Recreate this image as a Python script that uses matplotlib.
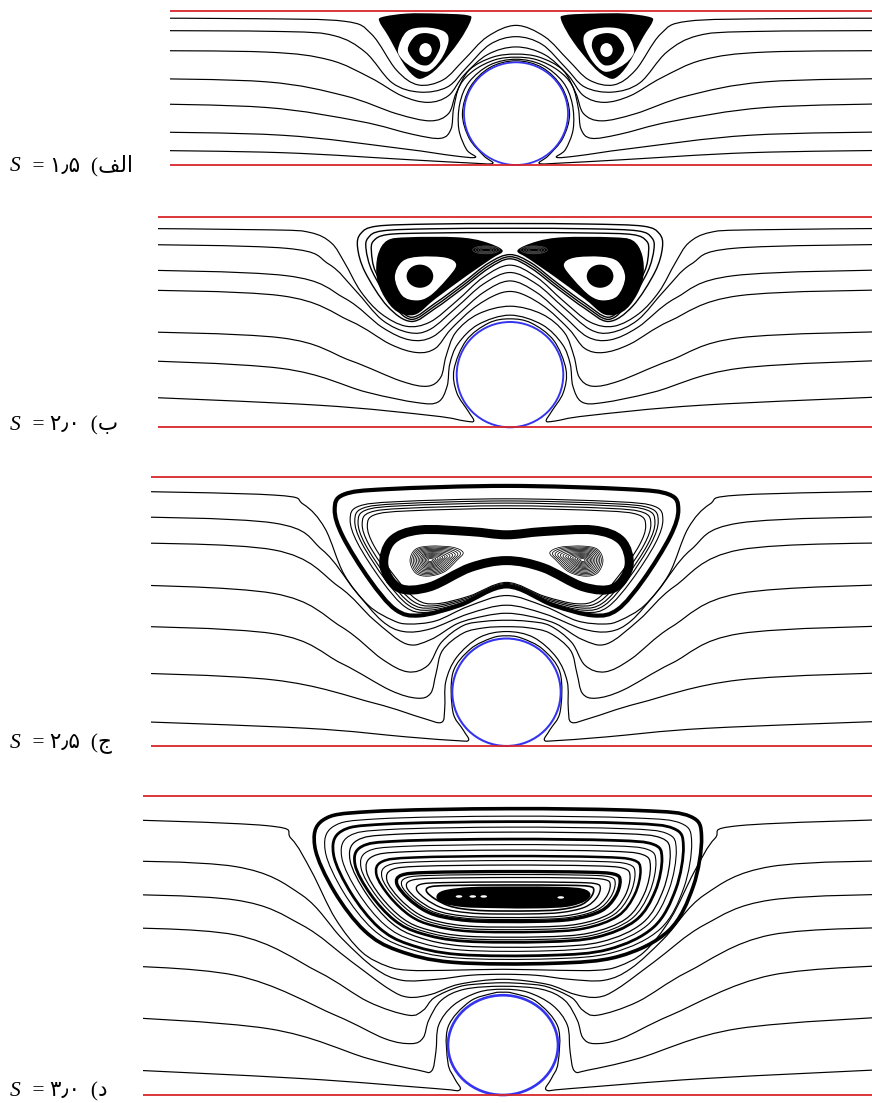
import numpy as np
import matplotlib
matplotlib.use("Agg")
import matplotlib.pyplot as plt
from matplotlib.path import Path
from matplotlib.patches import PathPatch, Circle, Ellipse
from matplotlib.transforms import Affine2D

W, H = 872, 1103
RED = "#d8262a"
BLUE = "#3434f0"
LW = 0.85

# ---- labels -------------------------------------------------------------
s_values = ["۱٫۵", "۲٫۰", "۲٫۵", "۳٫۰"]
# الف / ب / ج / د as presentation forms, already in visual order
part_names = ["\ufed2\ufedf\ufe8d", "\ufe8f", "\ufe9d", "\ufea9"]
channel_h = [3, 4, 5, 6]          # channel height in cylinder radii (= 2S)

# ---- streamlines: left half (x <= 0), units of cylinder radius ------------
# y is height above the lower wall; the cylinder sits at (0, 1) with radius 1
A_LINES = [
    [(-7.5, 2.86), (-5.0, 2.85), (-3.3, 2.8), (-2.78, 2.55), (-2.3, 1.85), (-1.88, 1.56), (-1.4, 1.66), (-1.0, 2.05), (-0.55, 2.5), (0, 2.72)],
    [(-7.5, 2.62), (-4.5, 2.6), (-3.5, 2.52), (-2.9, 2.2), (-2.38, 1.6), (-1.85, 1.42), (-1.32, 1.52), (-0.95, 1.9), (-0.5, 2.35), (0, 2.5)],
    [(-7.5, 2.23), (-4.8, 2.2), (-3.6, 2.05), (-2.8, 1.7), (-2.2, 1.35), (-1.7, 1.22), (-1.3, 1.35), (-1.0, 1.75), (-0.55, 2.15), (0, 2.3)],
    [(-7.5, 1.69), (-4.8, 1.62), (-3.3, 1.35), (-2.3, 1.0), (-1.65, 0.86), (-1.3, 1.0), (-1.15, 1.4), (-0.9, 1.85), (-0.45, 2.1), (0, 2.16)],
    [(-7.5, 1.2), (-4.8, 1.12), (-3.0, 0.85), (-2.0, 0.6), (-1.45, 0.52), (-1.25, 0.7), (-1.2, 1.1), (-1.08, 1.55), (-0.8, 1.85), (-0.4, 2.05), (0, 2.1)],
    [(-7.5, 0.65), (-4.5, 0.58), (-2.2, 0.32), (-1.2, 0.18), (-0.78, 0.15), (-0.95, 0.3), (-1.1, 0.7), (-1.08, 1.2), (-0.9, 1.62), (-0.5, 1.95), (0, 2.06)],
    [(-7.5, 0.29), (-4.5, 0.24), (-2.0, 0.1), (-0.9, 0.04), (-0.45, 0.03), (-0.62, 0.18), (-0.9, 0.52), (-1.03, 1.0), (-0.88, 1.52), (-0.5, 1.9), (0, 2.03)],
]
A_VORT_OUTER = [(-2.58, 2.88), (-2.1, 2.95), (-1.5, 2.95), (-0.95, 2.92), (-0.87, 2.82), (-1.1, 2.4), (-1.5, 1.9), (-1.75, 1.71), (-1.92, 1.7),
                (-2.15, 1.95), (-2.45, 2.5), (-2.62, 2.78)]
A_VORT_RING = [(-2.27, 2.25), (-2.1, 2.6), (-1.75, 2.68), (-1.38, 2.6), (-1.3, 2.4), (-1.45, 2.05), (-1.7, 1.82), (-1.98, 1.9), (-2.18, 2.05)]
A_VORT_CORE = [(-2.08, 2.25), (-1.95, 2.5), (-1.75, 2.57), (-1.52, 2.5), (-1.46, 2.3), (-1.58, 2.05), (-1.72, 1.94), (-1.92, 2.0)]
A_EYE = (-1.74, 2.24, 0.24, 0.27)

B_LINES = [
    [(-7.5, 3.78), (-4.5, 3.75), (-3.75, 3.7), (-3.35, 3.5), (-3.1, 3.12), (-2.8, 2.58), (-2.42, 2.16), (-1.95, 1.92), (-1.5, 2.0), (-1.0, 2.4), (-0.5, 2.85), (0, 3.08)],
    [(-7.5, 3.48), (-4.2, 3.4), (-3.4, 3.1), (-2.9, 2.6), (-2.4, 2.04), (-1.9, 1.8), (-1.5, 1.86), (-1.0, 2.28), (-0.5, 2.72), (0, 2.94)],
    [(-7.5, 3.0), (-4.2, 2.88), (-3.1, 2.45), (-2.4, 1.9), (-1.88, 1.66), (-1.45, 1.72), (-1.0, 2.12), (-0.5, 2.56), (0, 2.78)],
    [(-7.5, 2.62), (-4.3, 2.5), (-3.0, 2.02), (-2.25, 1.58), (-1.75, 1.42), (-1.4, 1.5), (-1.12, 1.85), (-0.7, 2.25), (-0.3, 2.5), (0, 2.58)],
    [(-7.5, 1.83), (-4.3, 1.7), (-3.0, 1.27), (-2.05, 0.88), (-1.55, 0.78), (-1.3, 0.95), (-1.2, 1.35), (-1.02, 1.8), (-0.6, 2.15), (0, 2.3)],
    [(-7.5, 1.29), (-4.3, 1.12), (-2.7, 0.67), (-1.75, 0.47), (-1.35, 0.48), (-1.18, 0.78), (-1.13, 1.2), (-0.98, 1.58), (-0.6, 1.95), (0, 2.13)],
    [(-7.5, 0.6), (-3.6, 0.42), (-1.45, 0.22), (-0.85, 0.12), (-0.68, 0.12), (-0.78, 0.3), (-1.0, 0.66), (-1.05, 1.1), (-0.82, 1.65), (-0.4, 1.98), (0, 2.06)],
]
# closed separatrix loops around both vortices (left half, top centre -> bottom centre)
B_LOOPS = [
    [(0, 3.87), (-1.5, 3.86), (-2.5, 3.82), (-2.8, 3.68), (-2.86, 3.42), (-2.72, 2.95), (-2.3, 2.3), (-1.85, 2.01), (-1.4, 2.26), (-0.9, 2.63), (-0.4, 3.02), (0, 3.2)],
    [(0, 3.78), (-1.5, 3.77), (-2.4, 3.73), (-2.66, 3.6), (-2.7, 3.38), (-2.58, 2.95), (-2.22, 2.36), (-1.85, 2.05), (-1.4, 2.31), (-0.9, 2.68), (-0.4, 3.07), (0, 3.24)],
    [(0, 3.7), (-1.5, 3.69), (-2.3, 3.66), (-2.56, 3.54), (-2.6, 3.34), (-2.52, 2.95), (-2.18, 2.4), (-1.85, 2.09), (-1.4, 2.36), (-0.9, 2.73), (-0.4, 3.12), (0, 3.28)],
]
B_VORT_OUTER = [(-2.3, 3.55), (-1.9, 3.61), (-1.0, 3.61), (-0.5, 3.53), (-0.14, 3.36), (-0.35, 3.2), (-0.81, 2.88), (-1.4, 2.44), (-1.78, 2.14),
                (-2.12, 2.2), (-2.36, 2.48), (-2.5, 2.85), (-2.48, 3.27)]
B_VORT_RING = [(-2.16, 2.85), (-2.02, 3.15), (-1.7, 3.24), (-1.2, 3.22), (-1.01, 3.08), (-1.2, 2.8), (-1.5, 2.5), (-1.75, 2.41), (-2.02, 2.5)]
B_CORE = (-1.69, 2.87, 0.5, 0.44)
B_TIP = (-0.45, 3.37, 0.5, 0.15)
B_TIP_SCALE = [1.0, 0.8, 0.6, 0.4]

C_LINES = [
    [(-7.5, 4.75), (-4.3, 4.67), (-3.75, 4.5), (-3.35, 4.05), (-3.0, 3.2), (-2.55, 2.62), (-2.1, 2.34), (-1.8, 2.27), (-1.3, 2.33), (-0.7, 2.6), (0, 2.8)],
    [(-7.5, 4.28), (-4.3, 4.15), (-3.4, 3.65), (-2.8, 2.9), (-2.3, 2.33), (-1.9, 2.13), (-1.4, 2.18), (-0.7, 2.46), (0, 2.62)],
    [(-7.5, 3.79), (-4.3, 3.65), (-3.1, 2.97), (-2.45, 2.35), (-1.85, 1.9), (-1.4, 1.98), (-0.9, 2.28), (-0.4, 2.42), (0, 2.47)],
    [(-7.5, 3.02), (-4.3, 2.84), (-3.05, 2.22), (-2.3, 1.62), (-1.82, 1.38), (-1.45, 1.5), (-1.2, 1.93), (-0.8, 2.24), (-0.4, 2.32), (0, 2.34)],
    [(-7.5, 2.25), (-4.3, 2.09), (-3.05, 1.54), (-2.15, 1.04), (-1.65, 0.89), (-1.4, 0.98), (-1.3, 1.35), (-1.18, 1.78), (-0.8, 2.1), (-0.4, 2.2), (0, 2.22)],
    [(-7.5, 1.38), (-4.3, 1.23), (-2.45, 0.8), (-1.55, 0.52), (-1.2, 0.44), (-1.14, 0.7), (-1.12, 1.2), (-0.92, 1.65), (-0.5, 2.02), (0, 2.13)],
    [(-7.5, 0.48), (-3.7, 0.33), (-1.85, 0.17), (-0.92, 0.1), (-0.7, 0.11), (-0.8, 0.3), (-0.99, 0.64), (-0.99, 1.36), (-0.67, 1.8), (-0.27, 2.01), (0, 2.05)],
]
C_OUTER = [(0, 4.84), (-2.2, 4.78), (-3.0, 4.68), (-3.17, 4.4), (-3.02, 3.9), (-2.53, 3.1), (-2.05, 2.54), (-1.6, 2.43), (-0.86, 2.62), (0, 2.97)]
C_OUTER_CY = 3.63
C_THIN_SX = [0.91, 0.883, 0.864, 0.84, 0.81]
C_THIN_SY = [0.876, 0.843, 0.81, 0.773, 0.736]
C_THIN_CY = [3.54, 3.54, 3.54, 3.535, 3.53]
C_PEANUT = [(0, 3.93), (-0.67, 3.99), (-1.6, 4.02), (-2.12, 3.82), (-2.26, 3.35), (-1.98, 2.94), (-1.42, 2.96), (-0.67, 3.32), (0, 3.45)]
C_SPIRAL = [(-1.41, 3.72), (-1.68, 3.66), (-1.78, 3.45), (-1.68, 3.22), (-1.45, 3.16), (-1.15, 3.24), (-0.92, 3.45), (-0.8, 3.6), (-1.0, 3.7)]
C_SPIRAL_EYE = (-1.41, 3.46)
C_SPIRAL_SCALE = [1.0, 0.92, 0.84, 0.76, 0.68, 0.6, 0.52, 0.45, 0.38, 0.31, 0.24, 0.17, 0.1]

D_LINES = [
    [(-7.5, 5.54), (-4.3, 5.4), (-3.85, 5.14), (-3.48, 4.48), (-3.05, 3.54), (-2.57, 2.87), (-2.1, 2.58), (-1.7, 2.5), (-1.0, 2.5), (0, 2.52)],
    [(-7.5, 4.71), (-4.87, 4.58), (-3.66, 4.01), (-2.93, 3.14), (-2.33, 2.54), (-1.84, 2.3), (-1.2, 2.32), (-0.6, 2.4), (0, 2.42)],
    [(-7.5, 4.04), (-4.87, 3.91), (-3.66, 3.41), (-2.75, 2.67), (-2.08, 2.13), (-1.72, 1.96), (-1.3, 2.02), (-0.8, 2.22), (0, 2.32)],
    [(-7.5, 3.37), (-4.87, 3.21), (-3.36, 2.47), (-2.45, 1.87), (-1.72, 1.6), (-1.45, 1.7), (-1.25, 1.95), (-0.8, 2.17), (-0.4, 2.23), (0, 2.25)],
    [(-7.5, 2.62), (-4.87, 2.4), (-3.05, 1.6), (-2.15, 1.13), (-1.66, 1.03), (-1.45, 1.15), (-1.35, 1.5), (-1.12, 1.9), (-0.7, 2.12), (0, 2.18)],
    [(-7.5, 1.6), (-4.27, 1.33), (-2.45, 0.73), (-1.55, 0.5), (-1.3, 0.48), (-1.22, 0.87), (-1.17, 1.4), (-0.9, 1.8), (-0.45, 2.06), (0, 2.12)],
    [(-7.5, 0.54), (-3.66, 0.33), (-1.24, 0.13), (-0.79, 0.1), (-0.88, 0.33), (-1.0, 0.64), (-1.0, 1.36), (-0.61, 1.87), (-0.18, 2.04), (0, 2.06)],
]
# one big recirculation cell: normalised outlines + nested loop boxes
D_SHAPE = [(0, 1.0), (0.686, 0.975), (0.943, 0.898), (1.0, 0.631), (0.957, -0.006), (0.829, -0.58), (0.571, -0.911), (0.229, -1.0),
           (-0.286, -0.987), (-0.571, -0.834), (-0.743, -0.58), (-0.9, -0.07), (-1.0, 0.503), (-0.957, 0.854), (-0.714, 0.962)]
D_BEAN = [(0, 1.0), (0.6, 0.97), (0.9, 0.8), (1.0, 0.3), (0.93, -0.35), (0.7, -0.85), (0.3, -1.0), (-0.2, -0.98), (-0.65, -0.88),
          (-0.93, -0.5), (-1.0, 0.1), (-0.9, 0.65), (-0.55, 0.95)]
D_LOOP_CX = [0.095, 0.1, 0.1, 0.11, 0.13, 0.1, 0.1, 0.1, 0.1, 0.1, 0.1, 0.1, 0.1, 0.1, 0.1, 0.13]
D_LOOP_CY = [4.19, 4.16, 4.14, 4.13, 4.12, 4.1, 4.07, 4.04, 4.03, 4.01, 3.99, 3.98, 3.97, 3.96, 3.95, 3.95]
D_LOOP_HW = [3.515, 3.33, 3.18, 3.04, 2.91, 2.79, 2.68, 2.58, 2.4, 2.3, 2.21, 2.03, 1.94, 1.85, 1.67, 1.52]
D_LOOP_HH = [1.55, 1.43, 1.34, 1.24, 1.15, 1.03, 0.95, 0.87, 0.76, 0.69, 0.62, 0.5, 0.45, 0.4, 0.32, 0.26]
D_LOOP_LW = [2.6, 0.8, 2.0, 0.8, 0.9, 2.0, 0.8, 0.9, 1.8, 0.8, 0.9, 2.4, 0.8, 0.9, 1.0, 1.2]
D_CORE = (0.19, 3.96, 1.4, 0.22)
D_SPECKS = [(-0.8, 3.98), (-0.55, 3.98), (-0.35, 3.98), (1.05, 3.96)]

# ---- panel placement on the page (pixels) ---------------------------------
pan_left = [170, 158, 151, 143]
pan_cx = [516, 510, 506.5, 503]
pan_r = [52, 53.3, 54.2, 55]
pan_top = [11, 216.7, 477.3, 795.7]
pan_bot = [165, 427.3, 746, 1095]
circle_lw = [1.3, 1.4, 1.5, 1.9]
lab_base = [171, 430, 748, 1096]


def curve(pts, closed=False):
    # Catmull-Rom through the points, handed to matplotlib as cubic Beziers
    P = np.asarray(pts, float)
    if closed:
        P = np.vstack([P[-1], P, P[0], P[1]])
    else:
        P = np.vstack([P[0], P, P[-1]])
    verts = [P[1]]
    codes = [Path.MOVETO]
    for i in range(1, len(P) - 2):
        c1 = P[i] + (P[i + 1] - P[i - 1]) / 6
        c2 = P[i + 1] - (P[i + 2] - P[i]) / 6
        verts += [c1, c2, P[i + 1]]
        codes += [Path.CURVE4] * 3
    if closed:
        verts.append(P[1])
        codes.append(Path.CLOSEPOLY)
    return Path(verts, codes)


def mirror(pts):
    return [(-x, y) for x, y in pts]


def same(pts):
    return list(pts)


def full_open(half):
    return list(half) + mirror(half[-2::-1])


def full_closed(half):
    return list(half) + mirror(half[-2:0:-1])


def stroke(ax, path, lw=LW, tr=None, color="k"):
    p = PathPatch(path, fill=False, ec=color, lw=lw, capstyle="round", joinstyle="round")
    if tr is not None:
        p.set_transform(tr + ax.transData)
    ax.add_patch(p)


def fill(ax, path, color, tr=None):
    p = PathPatch(path, fc=color, ec="none")
    if tr is not None:
        p.set_transform(tr + ax.transData)
    ax.add_patch(p)


fig = plt.figure(figsize=(W / 100, H / 100), dpi=100)
axes = []
for i in range(4):
    sv = (pan_bot[i] - pan_top[i]) / channel_h[i]
    pad = 4
    l, r = pan_left[i], W
    ax = fig.add_axes([l / W, 1 - (pan_bot[i] + pad) / H, (r - l) / W, (pan_bot[i] - pan_top[i] + 2 * pad) / H])
    ax.set_xlim((l - pan_cx[i]) / pan_r[i], (r - pan_cx[i]) / pan_r[i])
    ax.set_ylim(-pad / sv, channel_h[i] + pad / sv)
    ax.set_axis_off()
    axes.append(ax)

# panel (a)
ax = axes[0]
for ln in A_LINES:
    stroke(ax, curve(full_open(ln)))
for sgn, f in ((1, same), (-1, mirror)):
    fill(ax, curve(f(A_VORT_OUTER), True), "k")
    fill(ax, curve(f(A_VORT_RING), True), "white")
    fill(ax, curve(f(A_VORT_CORE), True), "k")
    ex, ey, ew, eh = A_EYE
    ax.add_patch(Ellipse((sgn * ex, ey), ew, eh, fc="white", ec="none"))

# panel (b)
ax = axes[1]
for ln in B_LINES:
    stroke(ax, curve(full_open(ln)))
for lp in B_LOOPS:
    stroke(ax, curve(full_closed(lp), True), lw=1.0)
for sgn, f in ((1, same), (-1, mirror)):
    fill(ax, curve(f(B_VORT_OUTER), True), "k")
    fill(ax, curve(f(B_VORT_RING), True), "white")
    cx_, cy_, cw, ch = B_CORE
    ax.add_patch(Ellipse((sgn * cx_, cy_), cw, ch, fc="k", ec="none"))
    tx, ty, tw, th = B_TIP
    for k in B_TIP_SCALE:
        ax.add_patch(Ellipse((sgn * tx, ty), tw * k, th * k, fill=False, ec="#555555", lw=0.5))

# panel (c)
ax = axes[2]
for ln in C_LINES:
    stroke(ax, curve(full_open(ln)))
outer_c = curve(full_closed(C_OUTER), True)
stroke(ax, outer_c, lw=3.0)
for sx, sy, cy in zip(C_THIN_SX, C_THIN_SY, C_THIN_CY):
    stroke(ax, outer_c, lw=0.8, tr=Affine2D().translate(0, -C_OUTER_CY).scale(sx, sy).translate(0, cy))
stroke(ax, curve(full_closed(C_PEANUT), True), lw=6.5)
for sgn, f in ((1, same), (-1, mirror)):
    sp = curve(f(C_SPIRAL), True)
    fx, fy = C_SPIRAL_EYE
    fx = sgn * fx
    for k in C_SPIRAL_SCALE:
        stroke(ax, sp, lw=0.55, tr=Affine2D().translate(-fx, -fy).scale(k).translate(fx, fy))

# panel (d)
ax = axes[3]
for ln in D_LINES:
    stroke(ax, curve(full_open(ln)))
shape_d = curve(D_SHAPE, True)
bean_d = curve(D_BEAN, True)
for cx_, cy_, hw, hh, lw in zip(D_LOOP_CX, D_LOOP_CY, D_LOOP_HW, D_LOOP_HH, D_LOOP_LW):
    stroke(ax, shape_d, lw=lw, tr=Affine2D().scale(hw, hh).translate(cx_, cy_))
fill(ax, bean_d, "k", tr=Affine2D().scale(D_CORE[2], D_CORE[3]).translate(D_CORE[0], D_CORE[1]))
for sx_, sy_ in D_SPECKS:
    ax.add_patch(Ellipse((sx_, sy_), 0.12, 0.05, fc="white", ec="none"))

# walls and cylinders
for i, ax in enumerate(axes):
    ax.axhline(0, color=RED, lw=1.3)
    ax.axhline(channel_h[i], color=RED, lw=1.3)
    ax.add_patch(Circle((0, 1), 1, fill=False, ec=BLUE, lw=circle_lw[i]))

# labels on the left
for i in range(4):
    yb = 1 - lab_base[i] / H
    fig.text(10 / W, yb, "S", fontsize=15.5, family="Liberation Serif", style="italic", va="baseline")
    fig.text(27 / W, yb, " = " + s_values[i] + "  (" + part_names[i], fontsize=15.5,
             family=["Liberation Serif", "DejaVu Sans"], va="baseline")

fig.savefig("out.png", dpi=100)
